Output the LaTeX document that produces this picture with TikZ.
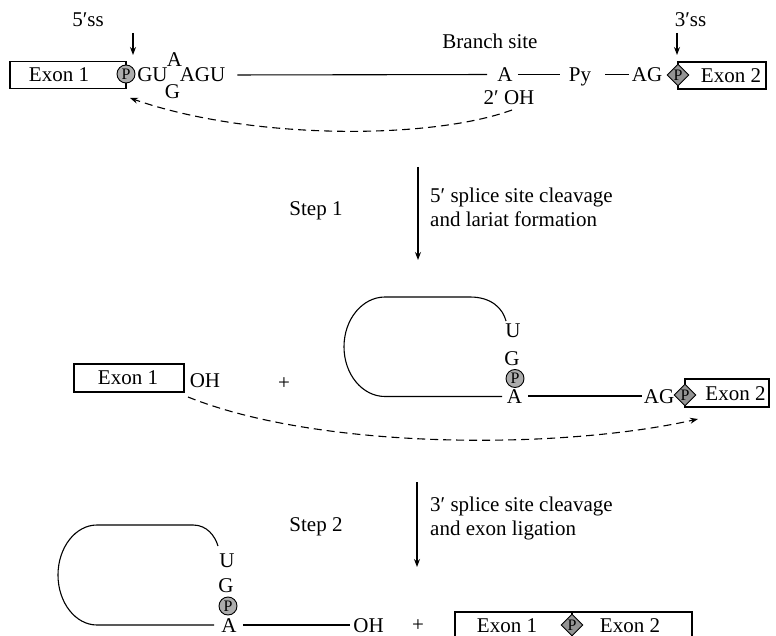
\documentclass[tikz,border=0pt]{standalone}
\usepackage{fontspec}
\setmainfont{Liberation Serif}
\usetikzlibrary{shapes.geometric,arrows.meta}
\begin{document}
\begin{tikzpicture}[x=1pt,y=-1pt,
  txt/.style={inner sep=0pt, font=\fontsize{21}{25}\selectfont},
  seq/.style={txt, text height=14pt, text depth=0pt},
  exonbox/.style={draw, line width=1.1pt, inner sep=0pt},
  ln/.style={line width=1.1pt},
  pcirc/.style={circle, draw, line width=0.9pt, fill=gray!65, minimum size=18pt, inner sep=0pt, font=\fontsize{16}{16}\selectfont},
  pdiam/.style={diamond, draw, line width=0.9pt, fill=gray!85, minimum size=22pt, inner sep=0pt, font=\fontsize{16}{16}\selectfont},
  arr/.style={line width=1.1pt, -{Stealth[length=8pt,width=6pt]}},
  dasharr/.style={line width=1.1pt, dash pattern=on 8pt off 5pt, -{Stealth[length=8pt,width=6pt]}}
]
\useasboundingbox (0,0) rectangle (776,636);

% ---------- top row: pre-mRNA ----------
\node[exonbox, minimum width=116pt, minimum height=27pt] (ex1a) at (68,75) {};
\node[txt] (ex1at) at (59,75) {Exon 1};
\node[pcirc] (p1) at (126,74) {P};
\node[seq] (gu) at (152.5,75) {GU};
\node[seq] (bulA) at (174.5,60) {A};
\node[seq] (bulG) at (172.5,92) {G};
\node[seq] (agu) at (202.5,75) {AGU};
\node[seq] (brA) at (505,74.5) {A};
\node[seq] (py) at (580,74.5) {Py};
\node[seq] (ag1) at (647,74.5) {AG};
\node[exonbox, minimum width=88pt, minimum height=27pt] (ex2a) at (722,75.5) {};
\node[txt] (ex2at) at (731,75.5) {Exon 2};
\node[pdiam] (d1) at (678,75) {P};
\draw[ln, shorten <=12pt, shorten >=10pt] (agu.east) -- (brA.west);
\draw[ln, shorten <=5pt, shorten >=9pt] (brA.east) -- (py.west);
\draw[ln, shorten <=14pt, shorten >=3pt] (py.east) -- (ag1.west);

\node[txt] (br) at (490,41.5) {Branch site};
\node[txt] (oh2) at (509,97.5) {2′ OH};
\node[txt] (ss5) at (88,20) {5′ss};
\node[txt] (ss3) at (690.5,20) {3′ss};
\coordinate (a5s) at (133,33); \coordinate (a5e) at (133,55);
\coordinate (a3s) at (677,33); \coordinate (a3e) at (677,55);
\draw[arr] (a5s) -- (a5e);
\draw[arr] (a3s) -- (a3e);
\coordinate (c1s) at (512,110); \coordinate (c1e) at (130,98);
\draw[dasharr] (c1s) .. controls (430,140) and (250,140) .. (c1e);

% ---------- step 1 ----------
\coordinate (s1a) at (418,167); \coordinate (s1b) at (418,260);
\draw[arr] (s1a) -- (s1b);
\node[txt, anchor=base] (st1) at (316,216) {Step 1};
\node[txt, anchor=base west] (st1a) at (430,203) {5′ splice site cleavage};
\node[txt, anchor=base west] (st1b) at (430,227) {and lariat formation};

% ---------- middle row ----------
\node[exonbox, minimum width=110pt, minimum height=28pt] (ex1b) at (129,378) {};
\node[txt] (ex1bt) at (128,378) {Exon 1};
\node[txt] (ohb) at (205,380.5) {OH};
\node[txt] (plus1) at (284,384) {+};
\draw[ln] (502,396.5) -- (385,396.5) .. controls (362.4,396.5) and (344,374.4) .. (344,346.8)
  .. controls (344,319.2) and (362.4,297) .. (385,297) -- (470,297)
  .. controls (492,297) and (503,309) .. (506,321);
\node[seq] (u2) at (513,330) {U};
\node[seq] (g2) at (512,358) {G};
\node[pcirc] (p2) at (515,378.5) {P};
\node[seq] (a2) at (514.5,396) {A};
\node[seq] (ag2) at (659,396) {AG};
\draw[ln, shorten <=6pt, shorten >=2pt] (a2.east) -- (ag2.west);
\node[exonbox, minimum width=84pt, minimum height=28pt] (ex2b) at (727,393) {};
\node[txt] (ex2bt) at (735.5,394) {Exon 2};
\node[pdiam] (d2) at (685,395) {P};
\coordinate (c2s) at (188,397); \coordinate (c2e) at (698,419);
\draw[dasharr] (c2s) .. controls (320,450) and (560,450) .. (c2e);

% ---------- step 2 ----------
\coordinate (s2a) at (417,482); \coordinate (s2b) at (417,567);
\draw[arr] (s2a) -- (s2b);
\node[txt, anchor=base] (st2) at (316,531) {Step 2};
\node[txt, anchor=base west] (st2a) at (430,511) {3′ splice site cleavage};
\node[txt, anchor=base west] (st2b) at (430,535) {and exon ligation};

% ---------- bottom row ----------
\draw[ln] (214,625) -- (97,625) .. controls (75.5,625) and (58,602.6) .. (58,575)
  .. controls (58,547.4) and (75.5,525) .. (97,525) -- (193,525)
  .. controls (207,525) and (215,536) .. (218,546);
\node[seq] (u3) at (227,560) {U};
\node[seq] (g3) at (226,585) {G};
\node[pcirc] (p3) at (228,606) {P};
\node[seq] (a3) at (229,625) {A};
\node[seq] (oh3) at (368.5,625) {OH};
\draw[ln, shorten <=6pt, shorten >=3pt] (a3.east) -- (oh3.west);
\node[txt] (plus2) at (418,626) {+};
\node[exonbox, minimum width=237pt, minimum height=28pt] (lig) at (573.5,626) {};
\coordinate (div) at (572,626);
\draw[ln] (div |- lig.north) -- (div |- lig.south);
\node[pdiam] (d3) at (572,625) {P};
\node[txt] (ex1c) at (507,626) {Exon 1};
\node[txt] (ex2c) at (630,626) {Exon 2};
\end{tikzpicture}
\end{document}
